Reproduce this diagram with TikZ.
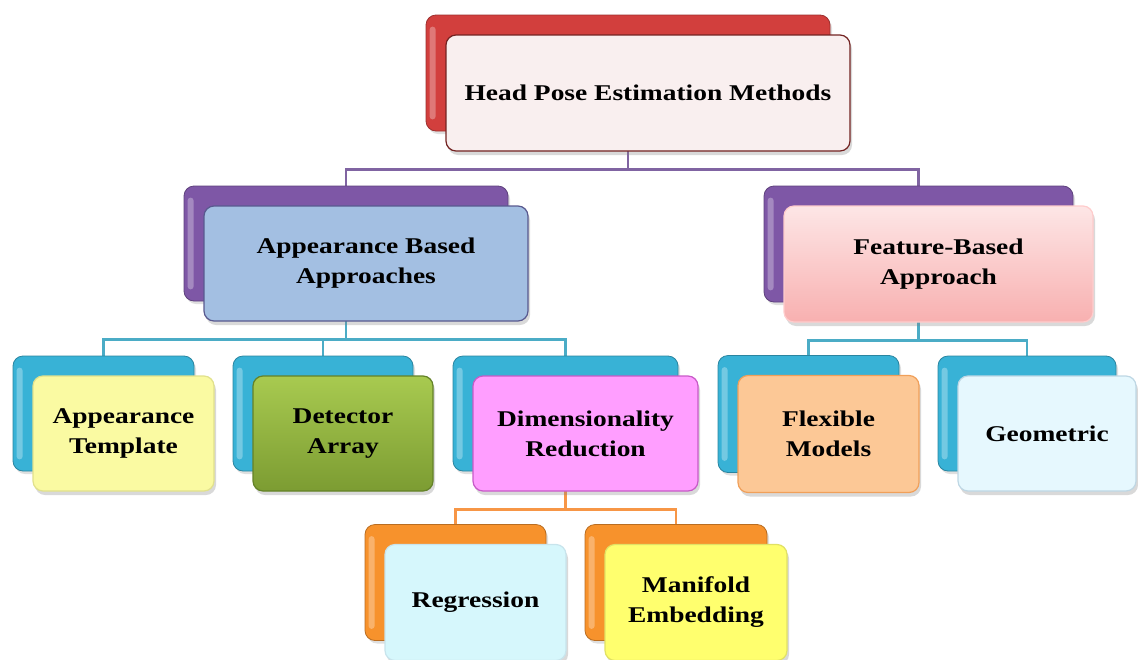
\documentclass[tikz,border=0pt]{standalone}
\usepackage{fontspec}
\setmainfont{Liberation Serif}[FakeStretch=1.22]
\usetikzlibrary{shadows,calc,backgrounds}

\definecolor{cRed}{HTML}{D23F3D}
\definecolor{cPurple}{HTML}{7E57A6}
\definecolor{cBlue}{HTML}{38B2D6}
\definecolor{cOrange}{HTML}{F7922C}
\definecolor{lPurple}{HTML}{8064A2}
\definecolor{lBlue}{HTML}{4BACC6}
\definecolor{lOrange}{HTML}{F79646}

\tikzset{
  backbox/.style={draw=#1!75!black, line width=0.8pt, fill=#1, rounded corners=10pt,
    inner sep=0pt, drop shadow={shadow xshift=2pt, shadow yshift=-3pt, opacity=0.25}},
  frontbox/.style={rounded corners=10pt, line width=1.2pt, inner sep=0pt, align=center,
    font=\bfseries\fontsize{22.5}{30}\selectfont,
    drop shadow={shadow xshift=2pt, shadow yshift=-4pt, opacity=0.3}},
  link/.style={line width=2.8pt, draw=#1},
}

% a coloured card behind a captioned card, the back one shifted up and left
\newcommand\cardpair[8]{%
  \node[backbox=#6, minimum width=#4pt, minimum height=#5pt] (#1b) at ($(#2,#3)+(-20,-20)$) {};
  \fill[white, opacity=0.3, rounded corners=3pt]
    ($(#1b.north west)+(4,12)$) rectangle ($(#1b.south west)+(10,-12)$);
  \node[frontbox, #7, minimum width=#4pt, minimum height=#5pt] (#1) at (#2,#3) {#8};
}
% elbow connector from the bottom of a back card to the top of a child back card
\newcommand\elbow[3]{%
  \draw[link=#1] (#2b.south) -- ++(0,38) -| (#3b.north);
}

\begin{document}
\begin{tikzpicture}[x=1pt,y=-1pt]
\useasboundingbox (0,0) rectangle (1138,659);
\begin{scope}
\clip (0,0) rectangle (1138,659);

\cardpair{top}{648}{93}{404}{116}{cRed}{draw=cRed!55!black, fill=red!4!white!95!gray}{Head Pose Estimation Methods}

\cardpair{ab}{366}{263.5}{324}{115}{cPurple}{draw=black!30!blue!30!gray, fill={rgb,255:red,163;green,191;blue,226}}{Appearance Based\\Approaches}
\cardpair{fb}{938.5}{264}{309}{116}{cPurple}{draw=red!20!white, top color={rgb,255:red,253;green,230;blue,230}, bottom color={rgb,255:red,248;green,176;blue,176}}{Feature-Based\\Approach}

\cardpair{at}{123.5}{433.5}{181}{115}{cBlue}{draw={rgb,255:red,225;green,225;blue,140}, fill={rgb,255:red,250;green,250;blue,162}}{Appearance\\Template}
\cardpair{da}{343}{433.5}{180}{115}{cBlue}{draw={rgb,255:red,100;green,130;blue,40}, top color={rgb,255:red,168;green,202;blue,80}, bottom color={rgb,255:red,124;green,156;blue,50}}{Detector\\Array}
\cardpair{dr}{585.5}{433.5}{225}{115}{cBlue}{draw={rgb,255:red,200;green,90;blue,200}, fill={rgb,255:red,255;green,158;blue,255}}{Dimensionality\\Reduction}
\cardpair{fm}{828.5}{434}{181}{117}{cBlue}{draw={rgb,255:red,240;green,160;blue,90}, fill={rgb,255:red,252;green,200;blue,150}}{Flexible\\Models}
\cardpair{ge}{1047}{433.5}{178}{115}{cBlue}{draw={rgb,255:red,190;green,215;blue,228}, fill={rgb,255:red,230;green,248;blue,254}}{Geometric}

\cardpair{rg}{475.5}{602.5}{181}{116}{cOrange}{draw={rgb,255:red,200;green,228;blue,236}, fill={rgb,255:red,214;green,247;blue,252}}{Regression}
\cardpair{me}{696}{602.5}{182}{116}{cOrange}{draw={rgb,255:red,225;green,225;blue,100}, fill={rgb,255:red,255;green,255;blue,110}}{Manifold\\Embedding}
\end{scope}

% connectors, kept behind the cards
\begin{scope}[on background layer]
\elbow{lPurple}{top}{ab}
\elbow{lPurple}{top}{fb}
\elbow{lBlue}{ab}{at}
\elbow{lBlue}{ab}{da}
\elbow{lBlue}{ab}{dr}
\elbow{lBlue}{fb}{fm}
\elbow{lBlue}{fb}{ge}
\elbow{lOrange}{dr}{rg}
\elbow{lOrange}{dr}{me}
\end{scope}
\end{tikzpicture}
\end{document}
